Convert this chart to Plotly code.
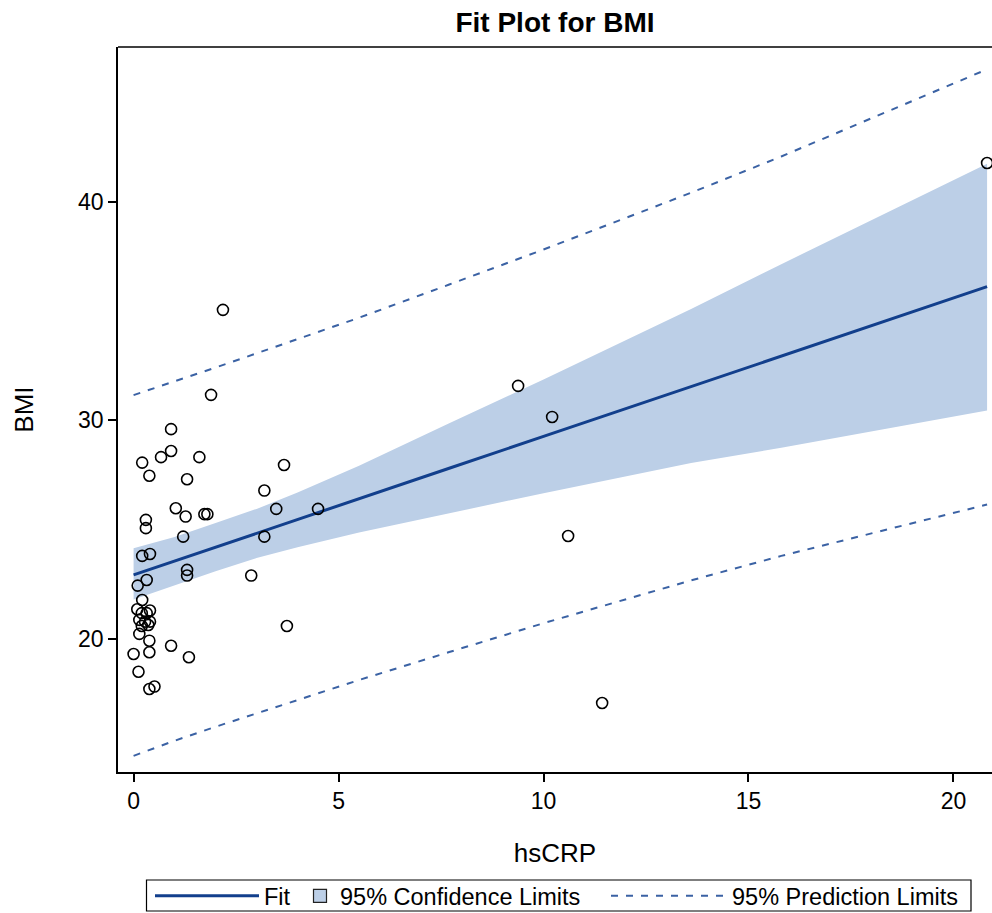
import plotly.graph_objects as go

# ---- data ----
hscrp = [0.915, 0.915, 0.67, 0.21, 0.385, 1.605, 1.305, 1.03, 1.27, 1.727, 1.80,
         0.30, 0.30, 1.21, 0.21, 0.40, 1.305, 1.305, 0.32, 0.10, 0.21, 0.09, 0.40,
         0.20, 0.32, 0.14, 0.28, 0.40, 0.20, 0.36, 0.14, 0.385, 0.915, 0.0, 0.385,
         1.35, 0.12, 0.385, 0.51, 3.19, 3.67, 3.48, 3.19, 2.87, 3.74, 4.50, 1.89,
         2.18, 9.38, 10.21, 10.60, 11.43, 20.82]
bmi = [29.60, 28.60, 28.32, 28.07, 27.47, 28.32, 27.31, 25.98, 25.60, 25.71, 25.71,
       25.45, 25.07, 24.68, 23.80, 23.89, 23.16, 22.90, 22.70, 22.44, 21.78, 21.36, 21.30,
       21.18, 21.18, 20.87, 20.79, 20.79, 20.59, 20.64, 20.23, 19.92, 19.69, 19.31, 19.39,
       19.16, 18.50, 17.71, 17.82, 26.79, 27.96, 25.95, 24.68, 22.90, 20.59, 25.95, 31.17,
       35.06, 31.58, 30.16, 24.71, 17.07, 41.78]

band_x = [0, 1, 2, 3, 4, 5.5, 7.7, 10, 13.6, 15.8, 20.82]
fit_y = [22.93, 23.56, 24.20, 24.83, 25.46, 26.41, 27.81, 29.27, 31.55, 32.94, 36.12]
cl_upper = [24.15, 24.66, 25.30, 25.95, 26.70, 27.93, 29.87, 31.87, 35.10, 37.15, 41.75]
cl_lower = [21.80, 22.46, 23.10, 23.70, 24.20, 24.87, 25.75, 26.67, 28.05, 28.75, 30.45]
pl_upper = [31.16, 31.78, 32.42, 33.07, 33.73, 34.70, 36.22, 37.82, 40.42, 42.08, 46.07]
pl_lower = [14.65, 15.34, 15.98, 16.59, 17.19, 18.12, 19.40, 20.72, 22.68, 23.80, 26.15]

x_ticks = [0, 5, 10, 15, 20]
y_ticks = [20, 30, 40]

FIT_C = "#123f8c"
BAND_C = "#bccfe7"
PL_C = "#3b62a4"
FONT = "Liberation Sans, Arial, sans-serif"
W, H = 992, 913

fig = go.Figure()

# confidence band
fig.add_trace(go.Scatter(x=band_x, y=cl_lower, mode="lines", line=dict(width=0),
                         showlegend=False, hoverinfo="skip"))
fig.add_trace(go.Scatter(x=band_x, y=cl_upper, mode="lines", line=dict(width=0),
                         fill="tonexty", fillcolor=BAND_C, showlegend=False,
                         hoverinfo="skip"))

# prediction limits
fig.add_trace(go.Scatter(x=band_x, y=pl_upper, mode="lines",
                         line=dict(color=PL_C, width=2, dash="7px,8px"),
                         showlegend=False))
fig.add_trace(go.Scatter(x=band_x, y=pl_lower, mode="lines",
                         line=dict(color=PL_C, width=2, dash="7px,8px"),
                         showlegend=False))

# fit line
fig.add_trace(go.Scatter(x=band_x, y=fit_y, mode="lines",
                         line=dict(color=FIT_C, width=3), name="Fit", legend="legend"))

# legend proxies
fig.add_trace(go.Scatter(x=[None], y=[None], mode="markers",
                         marker=dict(symbol="square", size=13, color=BAND_C,
                                     line=dict(color="#222222", width=1.2)),
                         name="95% Confidence Limits", legend="legend2"))
fig.add_trace(go.Scatter(x=[None], y=[None], mode="lines",
                         line=dict(color=PL_C, width=2, dash="7px,8px"),
                         name="95% Prediction Limits", legend="legend3"))

# observations
fig.add_trace(go.Scatter(x=hscrp, y=bmi, mode="markers",
                         marker=dict(symbol="circle-open", size=11, color="black",
                                     line=dict(width=1.6, color="black")),
                         showlegend=False))

LEG_Y = 1 - 896 / H
leg_common = dict(orientation="h", xref="container", yref="container", xanchor="left",
                  y=LEG_Y, yanchor="middle", borderwidth=0, bgcolor="rgba(0,0,0,0)",
                  font=dict(family=FONT, size=23.5, color="black"))

fig.update_layout(
    width=W, height=H,
    margin=dict(l=118, r=0, t=47, b=141),
    paper_bgcolor="white", plot_bgcolor="white",
    font=dict(family=FONT, size=22, color="black"),
    title=dict(text="<b>Fit Plot for BMI</b>", x=0.5, xref="paper", xanchor="center",
               y=1 - 22 / H, yanchor="middle", yref="container",
               font=dict(family=FONT, size=28, color="black")),
    showlegend=True,
    legend=dict(x=150 / W, itemwidth=104, **leg_common),
    legend2=dict(x=300 / W, itemwidth=30, **leg_common),
    legend3=dict(x=606 / W, itemwidth=116, **leg_common),
)

fig.update_xaxes(range=[-0.38, 20.94], tickvals=x_ticks, ticks="outside", ticklen=8,
                 tickwidth=1.5, tickcolor="black", showline=True, linecolor="black",
                 linewidth=1.5, showgrid=False, zeroline=False, automargin=False,
                 title=dict(text="hsCRP", standoff=30, font=dict(size=26)),
                 tickfont=dict(size=23))
fig.update_yaxes(range=[13.91, 47.09], tickvals=y_ticks, ticks="outside", ticklen=8,
                 tickwidth=1.5, tickcolor="black", showline=True, linecolor="black",
                 linewidth=1.5, showgrid=False, zeroline=False, automargin=False,
                 title=dict(text="BMI", standoff=37, font=dict(size=26)),
                 tickfont=dict(size=23))

# top border of the plot frame
fig.add_shape(type="line", xref="paper", yref="paper", x0=0, x1=1, y0=1, y1=1,
              line=dict(color="black", width=1.5))

# legend frame
fig.add_shape(type="rect", xref="paper", yref="paper",
              x0=(146.5 - 118) / 874, x1=(971 - 118) / 874,
              y0=(772 - 911) / 725, y1=(772 - 880) / 725,
              line=dict(color="black", width=1.2), fillcolor="rgba(0,0,0,0)")

fig.write_html("out.html")
